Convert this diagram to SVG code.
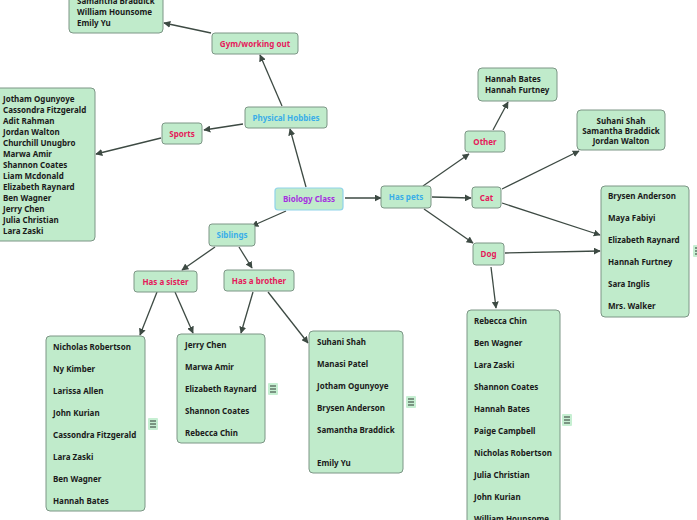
<svg xmlns="http://www.w3.org/2000/svg" width="697" height="520" viewBox="0 0 697 520">
<style>
.n{fill:#c0ebcb;stroke:#7d9686;stroke-width:1}
.c{fill:#c0ebcb;stroke:#8fd3ea;stroke-width:1.2}
text{font-family:"Noto Sans","DejaVu Sans",sans-serif;font-weight:bold;font-size:8px}
.t{fill:#1a1a1a}
.r{fill:#e5195a;text-anchor:middle}
.b{fill:#3aaee8;text-anchor:middle}
.p{fill:#a52fe0;text-anchor:middle}
.m{text-anchor:middle}
.e path{stroke:#3d4a43;stroke-width:1.3;fill:none}
.ic rect{fill:#c6efd2}
.ic path{stroke:#2f3a33;stroke-width:1}
</style>
<defs>
<marker id="a" viewBox="0 0 10 10" refX="9" refY="5" markerWidth="7" markerHeight="7" markerUnits="userSpaceOnUse" orient="auto">
<path d="M0,0 L10,5 L0,10 z" fill="#3d4a43"/>
</marker>
<g id="icon" class="ic"><rect x="-5" y="-6" width="10" height="12" rx="1"/><path d="M-3,-3 H3 M-3,0 H3 M-3,3 H3"/></g>
</defs>
<rect width="697" height="520" fill="#ffffff"/>

<g class="e" id="connectors">
<path d="M306,187 L290,129" marker-end="url(#a)"/>
<path d="M282,106 L260,55" marker-end="url(#a)"/>
<path d="M211,33 L164,23" marker-end="url(#a)"/>
<path d="M243,124 L204,130" marker-end="url(#a)"/>
<path d="M161,138 L96,154" marker-end="url(#a)"/>
<path d="M286,211 L252,226" marker-end="url(#a)"/>
<path d="M215,247 L182,270" marker-end="url(#a)"/>
<path d="M239,247 L252,268" marker-end="url(#a)"/>
<path d="M345,198 L381,198" marker-end="url(#a)"/>
<path d="M423,186 L469,154" marker-end="url(#a)"/>
<path d="M493,130 L508,102" marker-end="url(#a)"/>
<path d="M432,197 L471,198" marker-end="url(#a)"/>
<path d="M502,189 L579,151" marker-end="url(#a)"/>
<path d="M502,203 L600,235" marker-end="url(#a)"/>
<path d="M424,209 L473,243" marker-end="url(#a)"/>
<path d="M505,253 L600,251" marker-end="url(#a)"/>
<path d="M491,267 L496,308" marker-end="url(#a)"/>
<path d="M157,292 L140,335" marker-end="url(#a)"/>
<path d="M175,292 L193,333" marker-end="url(#a)"/>
<path d="M253,292 L241,333" marker-end="url(#a)"/>
<path d="M268,292 L308,343" marker-end="url(#a)"/>
</g>

<g id="gym-list">
<rect class="n" x="69" y="-12" width="94" height="45" rx="4"/>
<text class="t" x="77" y="4">Samantha Braddick</text>
<text class="t" x="77" y="15">William Hounsome</text>
<text class="t" x="77" y="26">Emily Yu</text>
</g>
<g id="gym">
<rect class="n" x="212" y="33" width="86" height="21" rx="3"/>
<text class="r" x="255" y="47">Gym/working out</text>
</g>
<g id="physical">
<rect class="n" x="245" y="107" width="82" height="21" rx="3"/>
<text class="b" x="286" y="121">Physical Hobbies</text>
</g>
<g id="sports">
<rect class="n" x="162" y="123" width="40" height="21" rx="3"/>
<text class="r" x="182" y="137">Sports</text>
</g>
<g id="sports-list">
<rect class="n" x="-6" y="88" width="101" height="153" rx="4"/>
<text class="t" x="3" y="102">Jotham Ogunyoye</text>
<text class="t" x="3" y="113">Cassondra Fitzgerald</text>
<text class="t" x="3" y="124">Adit Rahman</text>
<text class="t" x="3" y="135">Jordan Walton</text>
<text class="t" x="3" y="146">Churchill Unugbro</text>
<text class="t" x="3" y="157">Marwa Amir</text>
<text class="t" x="3" y="168">Shannon Coates</text>
<text class="t" x="3" y="179">Liam Mcdonald</text>
<text class="t" x="3" y="190">Elizabeth Raynard</text>
<text class="t" x="3" y="201">Ben Wagner</text>
<text class="t" x="3" y="212">Jerry Chen</text>
<text class="t" x="3" y="223">Julia Christian</text>
<text class="t" x="3" y="234">Lara Zaski</text>
</g>
<g id="biology">
<rect class="c" x="275" y="188" width="68" height="22" rx="3"/>
<text class="p" x="309" y="202">Biology Class</text>
</g>
<g id="pets">
<rect class="n" x="381" y="186" width="50" height="22" rx="3"/>
<text class="b" x="406" y="200">Has pets</text>
</g>
<g id="siblings">
<rect class="n" x="209" y="224" width="46" height="22" rx="3"/>
<text class="b" x="232" y="238">Siblings</text>
</g>
<g id="sister">
<rect class="n" x="134" y="271" width="63" height="21" rx="3"/>
<text class="r" x="165.500" y="285">Has a sister</text>
</g>
<g id="brother">
<rect class="n" x="224" y="270" width="70" height="21" rx="3"/>
<text class="r" x="259" y="284">Has a brother</text>
</g>
<g id="other">
<rect class="n" x="465" y="131" width="40" height="21" rx="3"/>
<text class="r" x="485" y="145">Other</text>
</g>
<g id="other-list">
<rect class="n" x="478" y="68" width="79" height="33" rx="4"/>
<text class="t" x="485" y="82">Hannah Bates</text>
<text class="t" x="485" y="93">Hannah Furtney</text>
</g>
<g id="cat">
<rect class="n" x="472" y="187" width="29" height="21" rx="3"/>
<text class="r" x="486.500" y="201">Cat</text>
</g>
<g id="cat-list">
<rect class="n" x="577" y="110" width="88" height="40" rx="4"/>
<text class="t m" x="621" y="124">Suhani Shah</text>
<text class="t m" x="621" y="134">Samantha Braddick</text>
<text class="t m" x="621" y="144">Jordan Walton</text>
</g>
<g id="dog">
<rect class="n" x="473" y="243" width="31" height="22" rx="3"/>
<text class="r" x="488.500" y="257">Dog</text>
</g>
<g id="pets-list">
<rect class="n" x="601" y="186" width="88" height="131" rx="4"/>
<text class="t" x="608" y="199">Brysen Anderson</text>
<text class="t" x="608" y="221">Maya Fabiyi</text>
<text class="t" x="608" y="243">Elizabeth Raynard</text>
<text class="t" x="608" y="265">Hannah Furtney</text>
<text class="t" x="608" y="287">Sara Inglis</text>
<text class="t" x="608" y="309">Mrs. Walker</text>
<use href="#icon" x="698" y="251"/>
</g>
<g id="sister-list">
<rect class="n" x="46" y="336" width="99" height="175" rx="4"/>
<text class="t" x="53" y="350">Nicholas Robertson</text>
<text class="t" x="53" y="372">Ny Kimber</text>
<text class="t" x="53" y="394">Larissa Allen</text>
<text class="t" x="53" y="416">John Kurian</text>
<text class="t" x="53" y="438">Cassondra Fitzgerald</text>
<text class="t" x="53" y="460">Lara Zaski</text>
<text class="t" x="53" y="482">Ben Wagner</text>
<text class="t" x="53" y="504">Hannah Bates</text>
<use href="#icon" x="153" y="424"/>
</g>
<g id="brother-list-1">
<rect class="n" x="177" y="334" width="88" height="109" rx="4"/>
<text class="t" x="185" y="348">Jerry Chen</text>
<text class="t" x="185" y="370">Marwa Amir</text>
<text class="t" x="185" y="392">Elizabeth Raynard</text>
<text class="t" x="185" y="414">Shannon Coates</text>
<text class="t" x="185" y="436">Rebecca Chin</text>
<use href="#icon" x="273" y="389"/>
</g>
<g id="brother-list-2">
<rect class="n" x="309" y="331" width="94" height="142" rx="4"/>
<text class="t" x="317" y="345">Suhani Shah</text>
<text class="t" x="317" y="367">Manasi Patel</text>
<text class="t" x="317" y="389">Jotham Ogunyoye</text>
<text class="t" x="317" y="411">Brysen Anderson</text>
<text class="t" x="317" y="433">Samantha Braddick</text>
<text class="t" x="317" y="466">Emily Yu</text>
<use href="#icon" x="411" y="402"/>
</g>
<g id="dog-list">
<rect class="n" x="467" y="310" width="93" height="230" rx="4"/>
<text class="t" x="474" y="324">Rebecca Chin</text>
<text class="t" x="474" y="346">Ben Wagner</text>
<text class="t" x="474" y="368">Lara Zaski</text>
<text class="t" x="474" y="390">Shannon Coates</text>
<text class="t" x="474" y="412">Hannah Bates</text>
<text class="t" x="474" y="434">Paige Campbell</text>
<text class="t" x="474" y="456">Nicholas Robertson</text>
<text class="t" x="474" y="478">Julia Christian</text>
<text class="t" x="474" y="500">John Kurian</text>
<text class="t" x="474" y="522">William Hounsome</text>
<use href="#icon" x="567" y="420"/>
</g>
</svg>
